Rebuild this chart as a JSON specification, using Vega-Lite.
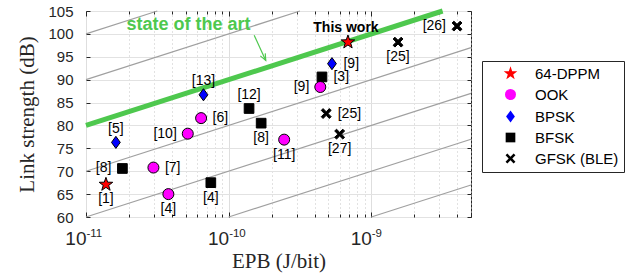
{
  "$schema": "https://vega.github.io/schema/vega-lite/v6.json",
  "width": 385,
  "height": 206,
  "autosize": {"type": "none"},
  "padding": {"left": 86, "top": 11, "right": 173, "bottom": 61},
  "background": "white",
  "config": {
    "view": {"stroke": "#262626", "strokeWidth": 1},
    "font": "Liberation Sans"
  },
  "datasets": {
    "fom": [
      {"line": "c100", "x": 1e-11, "y": 100},
      {"line": "c100", "x": 3.1623e-11, "y": 105},
      {"line": "c90", "x": 1e-11, "y": 90},
      {"line": "c90", "x": 3.1623e-10, "y": 105},
      {"line": "c70", "x": 1e-11, "y": 70},
      {"line": "c70", "x": 5e-9, "y": 96.99},
      {"line": "c60", "x": 1e-11, "y": 60},
      {"line": "c60", "x": 5e-9, "y": 86.99},
      {"line": "c50", "x": 1e-10, "y": 60},
      {"line": "c50", "x": 5e-9, "y": 76.99},
      {"line": "c40", "x": 1e-9, "y": 60},
      {"line": "c40", "x": 5e-9, "y": 66.99}
    ],
    "sota": [
      {"x": 1e-11, "y": 80},
      {"x": 3.1623e-9, "y": 105}
    ],
    "note": [
      {"x": 5.24e-11, "y": 101.9, "label": "state of the art", "ax": 1.51e-10, "ay": 99.7, "bx": 1.82e-10, "by": 94.2}
    ],
    "pts": [
      {"type": "BFSK", "x": 1.80e-11, "y": 70.6, "ref": "[8]", "pos": "left"},
      {"type": "BFSK", "x": 7.50e-11, "y": 67.5, "ref": "[4]", "pos": "below"},
      {"type": "BFSK", "x": 1.39e-10, "y": 83.7, "ref": "[12]", "pos": "above"},
      {"type": "BFSK", "x": 1.69e-10, "y": 80.5, "ref": "[8]", "pos": "below"},
      {"type": "BFSK", "x": 4.51e-10, "y": 90.6, "ref": "[3]", "pos": "right"},
      {"type": "GFSK (BLE)", "x": 4.83e-10, "y": 82.6, "ref": "[25]", "pos": "right"},
      {"type": "GFSK (BLE)", "x": 6.0e-10, "y": 78.1, "ref": "[27]", "pos": "below"},
      {"type": "GFSK (BLE)", "x": 1.54e-9, "y": 98.2, "ref": "[25]", "pos": "below"},
      {"type": "GFSK (BLE)", "x": 3.99e-9, "y": 101.7, "ref": "[26]", "pos": "left"},
      {"type": "OOK", "x": 2.97e-11, "y": 70.8, "ref": "[7]", "pos": "right"},
      {"type": "OOK", "x": 3.78e-11, "y": 65.0, "ref": "[4]", "pos": "below"},
      {"type": "OOK", "x": 5.17e-11, "y": 78.2, "ref": "[10]", "pos": "left"},
      {"type": "OOK", "x": 6.41e-11, "y": 81.6, "ref": "[6]", "pos": "right"},
      {"type": "OOK", "x": 2.45e-10, "y": 76.9, "ref": "[11]", "pos": "below"},
      {"type": "OOK", "x": 4.39e-10, "y": 88.4, "ref": "[9]", "pos": "left"},
      {"type": "BPSK", "x": 1.62e-11, "y": 76.3, "ref": "[5]", "pos": "above"},
      {"type": "BPSK", "x": 6.66e-11, "y": 86.7, "ref": "[13]", "pos": "above"},
      {"type": "BPSK", "x": 5.30e-10, "y": 93.5, "ref": "[9]", "pos": "right"},
      {"type": "64-DPPM", "x": 1.38e-11, "y": 67.1, "ref": "[1]", "pos": "below"},
      {"type": "64-DPPM", "x": 6.86e-10, "y": 98.2, "ref": "This work", "pos": "title"}
    ]
  },
  "resolve": {"axis": {"x": "independent", "y": "independent"}},
  "layer": [
    {
      "data": {"name": "fom"},
      "mark": {"type": "line", "color": "#a0a0a0", "strokeWidth": 1.2},
      "encoding": {
        "x": {
          "field": "x", "type": "quantitative",
          "scale": {"type": "log", "domain": [1e-11, 5e-9], "nice": false},
          "axis": {
            "orient": "bottom",
            "title": "EPB (J/bit)",
            "titleFont": "Liberation Serif", "titleFontSize": 21, "titleFontWeight": "normal", "titleColor": "#262626",
            "titlePadding": 0,
            "values": [1e-11, 2e-11, 3e-11, 4e-11, 5e-11, 6e-11, 7e-11, 8e-11, 9e-11, 1e-10, 2e-10, 3e-10, 4e-10, 5e-10, 6e-10, 7e-10, 8e-10, 9e-10, 1e-9, 2e-9, 3e-9, 4e-9, 5e-9],
            "labelExpr": "abs(log(datum.value)/LN10 - round(log(datum.value)/LN10)) < 0.01 ? '10' : ''",
            "labelFont": "Liberation Sans", "labelFontSize": 19, "labelColor": "#262626",
            "labelPadding": 17, "labelFlush": false, "labelOverlap": false, "labelAlign": "right", "labelDx": 0,
            "domain": false,
            "tickColor": "#262626",
            "tickSize": {"condition": {"test": "abs(log(datum.value)/LN10 - round(log(datum.value)/LN10)) < 0.01", "value": -5}, "value": -3},
            "grid": true,
            "gridColor": {"condition": {"test": "abs(log(datum.value)/LN10 - round(log(datum.value)/LN10)) < 0.01", "value": "#dedede"}, "value": "#c4c4c4"},
            "gridDash": {"condition": {"test": "abs(log(datum.value)/LN10 - round(log(datum.value)/LN10)) < 0.01", "value": []}, "value": [1, 3]}
          }
        },
        "y": {
          "field": "y", "type": "quantitative",
          "scale": {"domain": [60, 105], "nice": false, "zero": false},
          "axis": {
            "orient": "left",
            "title": "Link strength (dB)",
            "titleFont": "Liberation Serif", "titleFontSize": 21, "titleFontWeight": "normal", "titleColor": "#262626",
            "titlePadding": 10,
            "values": [60, 65, 70, 75, 80, 85, 90, 95, 100, 105],
            "labelFont": "Liberation Sans", "labelFontSize": 15, "labelColor": "#262626",
            "labelPadding": 17, "labelFlush": false,
            "domain": false,
            "tickColor": "#262626", "tickSize": -4,
            "grid": true, "gridColor": "#e2e2e2"
          }
        },
        "detail": {"field": "line"}
      }
    },
    {
      "data": {"name": "sota"},
      "mark": {"type": "line", "color": "#4ec84e", "strokeWidth": 5},
      "encoding": {
        "x": {
          "field": "x", "type": "quantitative",
          "axis": {
            "orient": "top", "title": null, "labels": false, "domain": false, "grid": false,
            "values": [1e-11, 2e-11, 3e-11, 4e-11, 5e-11, 6e-11, 7e-11, 8e-11, 9e-11, 1e-10, 2e-10, 3e-10, 4e-10, 5e-10, 6e-10, 7e-10, 8e-10, 9e-10, 1e-9, 2e-9, 3e-9, 4e-9, 5e-9],
            "tickColor": "#262626",
            "tickSize": {"condition": {"test": "abs(log(datum.value)/LN10 - round(log(datum.value)/LN10)) < 0.01", "value": -5}, "value": -3}
          }
        },
        "y": {
          "field": "y", "type": "quantitative",
          "axis": {
            "orient": "right", "title": null, "labels": false, "domain": false, "grid": false,
            "values": [60, 65, 70, 75, 80, 85, 90, 95, 100, 105],
            "tickColor": "#262626", "tickSize": -4
          }
        }
      }
    },
    {
      "data": {"name": "note"},
      "mark": {"type": "rule", "color": "#4ec84e", "strokeWidth": 1.2},
      "encoding": {
        "x": {"field": "ax", "type": "quantitative", "axis": null},
        "y": {"field": "ay", "type": "quantitative", "axis": null},
        "x2": {"field": "bx"},
        "y2": {"field": "by"}
      }
    },
    {
      "data": {"name": "note"},
      "mark": {"type": "point", "filled": false, "color": "#4ec84e", "strokeWidth": 1.2, "opacity": 1, "size": 100, "angle": -27, "shape": "M-0.55,-1.3L0,0L0.55,-1.3"},
      "encoding": {
        "x": {"field": "bx", "type": "quantitative", "axis": null},
        "y": {"field": "by", "type": "quantitative", "axis": null}
      }
    },
    {
      "data": {"name": "note"},
      "mark": {"type": "text", "color": "#4ec84e", "font": "Liberation Sans", "fontSize": 18, "fontWeight": "bold", "baseline": "middle", "align": "center"},
      "encoding": {
        "x": {
          "field": "x", "type": "quantitative",
          "axis": {
            "orient": "bottom", "title": null, "domain": false, "grid": false, "ticks": false,
            "values": [1e-11, 1e-10, 1e-9],
            "labelExpr": "datum.value < 5e-11 ? '-11' : datum.value < 5e-10 ? '-10' : '-9'",
            "labelFont": "Liberation Sans", "labelFontSize": 11.5, "labelColor": "#262626",
            "labelAlign": "left", "labelBaseline": "top", "labelPadding": 10, "labelDx": 1.5, "labelFlush": false, "labelOverlap": false
          }
        },
        "y": {"field": "y", "type": "quantitative", "axis": null},
        "text": {"field": "label"}
      }
    },
    {
      "data": {"name": "pts"},
      "mark": {"type": "point", "filled": true, "size": 121, "stroke": "black", "strokeWidth": 1, "opacity": 1},
      "encoding": {
        "x": {"field": "x", "type": "quantitative", "axis": null},
        "y": {"field": "y", "type": "quantitative", "axis": null},
        "fill": {
          "field": "type", "type": "nominal",
          "scale": {"domain": ["64-DPPM", "OOK", "BPSK", "BFSK", "GFSK (BLE)"], "range": ["#ff0000", "#ff00ff", "#0000ff", "#000000", "#000000"]},
          "legend": {"title": null, "orient": "none", "legendX": 396, "legendY": 50, "fillColor": "white", "strokeColor": "#262626", "padding": 5, "rowPadding": 5, "symbolOffset": 16, "labelOffset": 17, "labelFont": "Liberation Sans", "labelFontSize": 15, "labelColor": "black", "symbolSize": 121, "symbolStrokeColor": "black", "symbolStrokeWidth": 1}
        },
        "shape": {
          "field": "type", "type": "nominal",
          "scale": {"domain": ["64-DPPM", "OOK", "BPSK", "BFSK", "GFSK (BLE)"], "range": [
            "M0,-1.3L0.306,-0.421L1.236,-0.402L0.495,0.161L0.764,1.052L0,0.52L-0.764,1.052L-0.495,0.161L-1.236,-0.402L-0.306,-0.421Z",
            "circle",
            "M0,-1.1L0.8,0L0,1.1L-0.8,0Z",
            "M-0.88,-0.88L0.88,-0.88L0.88,0.88L-0.88,0.88Z",
            "M-0.9,-0.57L-0.57,-0.9L0,-0.33L0.57,-0.9L0.9,-0.57L0.33,0L0.9,0.57L0.57,0.9L0,0.33L-0.57,0.9L-0.9,0.57L-0.33,0Z"
          ]},
          "legend": {"title": null, "orient": "none", "legendX": 396, "legendY": 50, "fillColor": "white", "strokeColor": "#262626", "padding": 5, "rowPadding": 5, "symbolOffset": 16, "labelOffset": 17, "labelFont": "Liberation Sans", "labelFontSize": 15, "labelColor": "black", "symbolSize": 121, "symbolStrokeColor": "black", "symbolStrokeWidth": 1}
        }
      }
    },
    {
      "data": {"name": "pts"},
      "transform": [{"filter": "datum.pos == 'above'"}],
      "mark": {"type": "text", "font": "Liberation Sans", "fontSize": 14, "color": "black", "baseline": "middle", "align": "center", "dy": -13.5},
      "encoding": {
        "x": {"field": "x", "type": "quantitative", "axis": null},
        "y": {"field": "y", "type": "quantitative", "axis": null},
        "text": {"field": "ref"}
      }
    },
    {
      "data": {"name": "pts"},
      "transform": [{"filter": "datum.pos == 'title'"}],
      "mark": {"type": "text", "font": "Liberation Sans", "fontSize": 14, "fontWeight": "bold", "color": "black", "baseline": "middle", "align": "center", "dy": -14.5, "dx": -2},
      "encoding": {
        "x": {"field": "x", "type": "quantitative", "axis": null},
        "y": {"field": "y", "type": "quantitative", "axis": null},
        "text": {"field": "ref"}
      }
    },
    {
      "data": {"name": "pts"},
      "transform": [{"filter": "datum.pos == 'below'"}],
      "mark": {"type": "text", "font": "Liberation Sans", "fontSize": 14, "color": "black", "baseline": "middle", "align": "center", "dy": 15},
      "encoding": {
        "x": {"field": "x", "type": "quantitative", "axis": null},
        "y": {"field": "y", "type": "quantitative", "axis": null},
        "text": {"field": "ref"}
      }
    },
    {
      "data": {"name": "pts"},
      "transform": [{"filter": "datum.pos == 'left'"}],
      "mark": {"type": "text", "font": "Liberation Sans", "fontSize": 14, "color": "black", "baseline": "middle", "align": "right", "dx": -11},
      "encoding": {
        "x": {"field": "x", "type": "quantitative", "axis": null},
        "y": {"field": "y", "type": "quantitative", "axis": null},
        "text": {"field": "ref"}
      }
    },
    {
      "data": {"name": "pts"},
      "transform": [{"filter": "datum.pos == 'right'"}],
      "mark": {"type": "text", "font": "Liberation Sans", "fontSize": 14, "color": "black", "baseline": "middle", "align": "left", "dx": 11.5},
      "encoding": {
        "x": {"field": "x", "type": "quantitative", "axis": null},
        "y": {"field": "y", "type": "quantitative", "axis": null},
        "text": {"field": "ref"}
      }
    }
  ]
}
